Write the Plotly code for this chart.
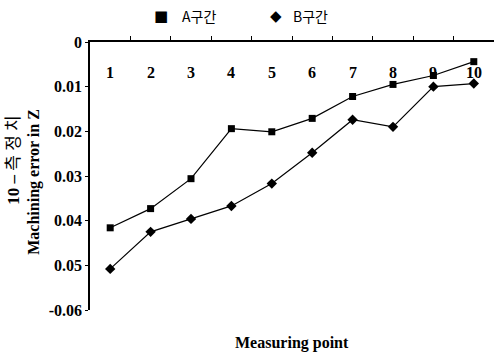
import plotly.graph_objects as go

points = list(range(1, 11))
category_labels = [str(p) for p in points]
series_a = [0.0416, 0.0373, 0.0306, 0.0194, 0.0201, 0.0171, 0.0122, 0.0095, 0.0075, 0.0044]
series_b = [0.0508, 0.0425, 0.0396, 0.0367, 0.0317, 0.0248, 0.0174, 0.0190, 0.0100, 0.0093]
y_tick_vals = [0, 0.01, 0.02, 0.03, 0.04, 0.05, 0.06]
y_tick_text = ["0", "0.01", "0.02", "0.03", "0.04", "0.05", "-0.06"]

serif = "Liberation Serif, Times New Roman, serif"

fig = go.Figure()
fig.add_trace(go.Scatter(x=points, y=series_a, mode="lines+markers", name="A구간",
                         line=dict(color="black", width=1.2),
                         marker=dict(symbol="square", size=7, color="black"),
                         showlegend=False))
fig.add_trace(go.Scatter(x=points, y=series_b, mode="lines+markers", name="B구간",
                         line=dict(color="black", width=1.2),
                         marker=dict(symbol="diamond", size=8, color="black"),
                         showlegend=False))

px_x = lambda px: (px - 90) / 404
px_y = lambda py: (310 - py) / 267.5

annotations = []
for p, lab in zip(points, category_labels):
    annotations.append(dict(x=p, y=px_y(73), xref="x", yref="paper", text="<b>%s</b>" % lab,
                            showarrow=False, font=dict(family=serif, size=16, color="black"),
                            xanchor="center", yanchor="middle"))
# legend
annotations += [
    dict(x=px_x(161), y=px_y(17), xref="paper", yref="paper", text="■",
         showarrow=False, font=dict(family="DejaVu Sans", size=15, color="black"),
         xanchor="center", yanchor="middle"),
    dict(x=px_x(180), y=px_y(17), xref="paper", yref="paper", text="A구간",
         showarrow=False, font=dict(family="Noto Sans CJK KR", size=14, color="black"),
         xanchor="left", yanchor="middle"),
    dict(x=px_x(276), y=px_y(17), xref="paper", yref="paper", text="◆",
         showarrow=False, font=dict(family="DejaVu Sans", size=15, color="black"),
         xanchor="center", yanchor="middle"),
    dict(x=px_x(291), y=px_y(17), xref="paper", yref="paper", text="B구간",
         showarrow=False, font=dict(family="Noto Sans CJK KR", size=14, color="black"),
         xanchor="left", yanchor="middle"),
]
# axis titles
annotations += [
    dict(x=px_x(14), y=px_y(161), xref="paper", yref="paper",
         text="<b>10 –</b> 측 정 치",
         textangle=-90, showarrow=False,
         font=dict(family=serif + ", Noto Sans CJK KR", size=17, color="black"),
         xanchor="center", yanchor="middle"),
    dict(x=px_x(34), y=px_y(182), xref="paper", yref="paper", text="<b>Machining error in Z</b>",
         textangle=-90, showarrow=False, font=dict(family=serif, size=16, color="black"),
         xanchor="center", yanchor="middle"),
    dict(x=px_x(292), y=px_y(343), xref="paper", yref="paper", text="<b>Measuring point</b>",
         showarrow=False, font=dict(family=serif, size=16, color="black"),
         xanchor="center", yanchor="middle"),
]

fig.update_layout(
    width=495, height=354,
    margin=dict(l=90, r=1, t=42, b=44),
    paper_bgcolor="white", plot_bgcolor="white",
    annotations=annotations,
    xaxis=dict(range=[0.5, 10.5], side="top", showline=True, linecolor="black", linewidth=1.5,
               tickvals=[1.5 + i for i in range(9)], ticktext=[""] * 9,
               ticks="outside", ticklen=4, tickcolor="black", showgrid=False, zeroline=False),
    yaxis=dict(range=[0.06, 0], showline=True, linecolor="black", linewidth=1.5,
               tickvals=y_tick_vals, ticktext=["<b>%s</b>" % t for t in y_tick_text],
               ticks="outside", ticklen=3, tickcolor="black", showgrid=False, zeroline=False,
               tickfont=dict(family=serif, size=16, color="black")),
)

fig.write_html("out.html")
